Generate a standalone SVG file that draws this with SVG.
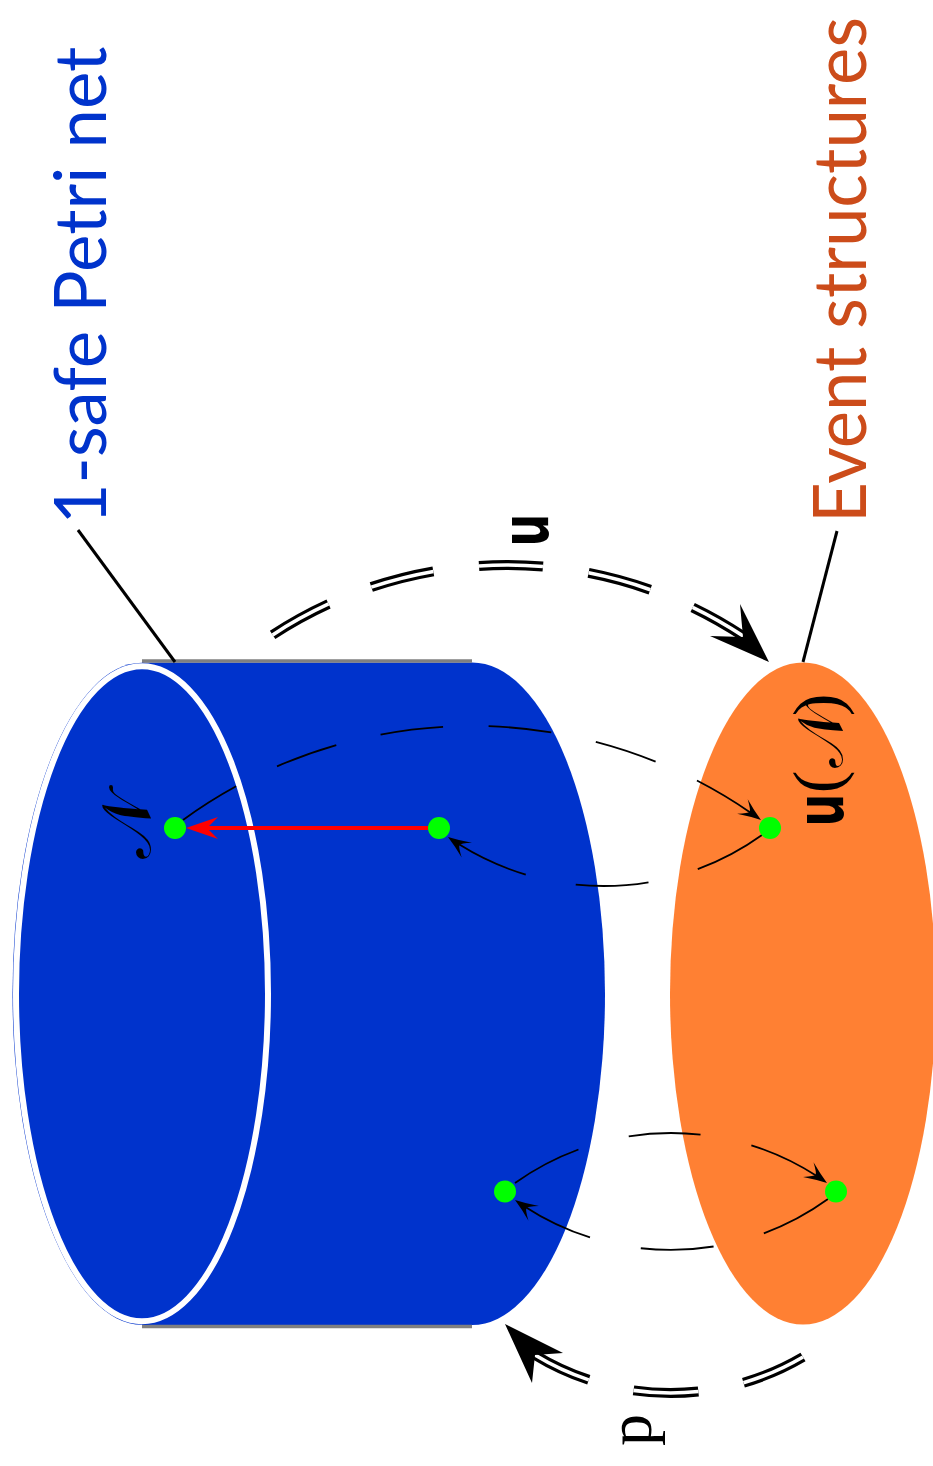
<svg xmlns="http://www.w3.org/2000/svg" width="933" height="1466" viewBox="0 0 933 1466">
  <style>
    .thin { fill: none; stroke: #000; stroke-width: 1.8; }
    .dbl-out { fill: none; stroke: #000; stroke-width: 10; }
    .dbl-in { fill: none; stroke: #fff; stroke-width: 3.6; }
    .dot { fill: #00ff00; }
    .lead { stroke: #000; stroke-width: 3; }
    .title { font-family: Lato, "Noto Sans", "DejaVu Sans", sans-serif; text-anchor: middle; }
    .math { font-family: "Liberation Serif", "DejaVu Serif", serif; text-anchor: middle; }
    .cal { font-family: "DejaVu Serif", "DejaVu Sans", "Noto Sans", serif; text-anchor: middle; }
    .bu { font-family: "DejaVu Sans", sans-serif; font-weight: bold; text-anchor: middle; }
  </style>
  <defs>
    <marker id="tip" markerUnits="userSpaceOnUse" orient="auto" viewBox="-25 -12 27 24" refX="0" refY="0" markerWidth="27" markerHeight="24">
      <path d="M0,0 Q-11,-3.5 -23,-9 Q-14,-2 -14,0 Q-14,2 -23,9 Q-11,3.5 0,0 Z" fill="#000"/>
    </marker>
    <marker id="redtip" markerUnits="userSpaceOnUse" orient="auto" viewBox="-13 -12 36 24" refX="0" refY="0" markerWidth="36" markerHeight="24">
      <path d="M21,0 L-11,-11 L0,0 L-11,11 Z" fill="#ff0000"/>
    </marker>
  </defs>

  <!-- 1-safe Petri net: cylinder -->
  <g id="petri-net">
    <path d="M142,662.5 H472 A133,331.25 0 0 1 472,1325 H142 Z" fill="#0033cc"/>
    <line x1="142" y1="661" x2="472" y2="661" stroke="#808080" stroke-width="3.4"/>
    <line x1="142" y1="1326.5" x2="472" y2="1326.5" stroke="#808080" stroke-width="3.4"/>
    <ellipse cx="142" cy="993.75" rx="129.5" ry="331" fill="#0033cc"/>
    <ellipse cx="142" cy="993.75" rx="126" ry="327.5" fill="none" stroke="#fff" stroke-width="6"/>
    <text class="title" transform="translate(106,285.5) rotate(-90)" font-size="72" fill="#0033cc" textLength="478" lengthAdjust="spacingAndGlyphs">1-safe Petri net</text>
  </g>

  <!-- Event structures: ellipse -->
  <g id="event-structures">
    <ellipse cx="803" cy="993.5" rx="133" ry="331" fill="#ff8033"/>
    <text class="title" transform="translate(866,270) rotate(-90)" font-size="74" fill="#cc4c1a" textLength="506" lengthAdjust="spacingAndGlyphs">Event structures</text>
  </g>

  <g id="connectors">
    <!-- leaders -->
    <line class="lead" x1="78" y1="530" x2="175" y2="662"/>
    <line class="lead" x1="837" y1="531" x2="803" y2="662"/>

    <!-- u : nets to event structures -->
    <path class="dbl-out" d="M272.6,634.9 A428,428 0 0 1 743.2,636.1" stroke-dasharray="64 46"/>
    <path class="dbl-in" d="M272.6,634.9 A428,428 0 0 1 743.2,636.1" stroke-dasharray="64 46"/>
    <polygon points="769,662 740,604 743,637 710,636" fill="#000"/>

    <!-- p : event structures to nets -->
    <path class="dbl-out" d="M803,1357 A261,261 0 0 1 535,1355" stroke-dasharray="65 46"/>
    <path class="dbl-in" d="M803,1357 A261,261 0 0 1 535,1355" stroke-dasharray="65 46"/>
    <polygon points="505,1324 563,1353 535,1355 532,1383" fill="#000"/>

    <!-- element maps -->
    <path class="thin" d="M183,820 A491,491 0 0 1 761,820" stroke-dasharray="63 45.5" marker-end="url(#tip)"/>
    <path class="thin" d="M762,835 A271.5,271.5 0 0 1 448,837" stroke-dasharray="73 51" marker-end="url(#tip)"/>
    <path class="thin" d="M515,1183 A268.4,268.4 0 0 1 827,1183" stroke-dasharray="72 52" marker-end="url(#tip)"/>
    <path class="thin" d="M828,1199 A268,268 0 0 1 515,1200" stroke-dasharray="73 52" marker-end="url(#tip)"/>

    <!-- red arrow inside the net class -->
    <path d="M428,828 H207" fill="none" stroke="#ff0000" stroke-width="4" marker-end="url(#redtip)"/>
  </g>

  <!-- points -->
  <g id="n-net"><circle class="dot" cx="175" cy="828" r="11"/></g>
  <g id="n-net-2"><circle class="dot" cx="439" cy="828" r="11"/></g>
  <g id="n-es"><circle class="dot" cx="770" cy="828" r="11"/></g>
  <g id="m-net"><circle class="dot" cx="505" cy="1191.5" r="11"/></g>
  <g id="m-es"><circle class="dot" cx="836" cy="1191.5" r="11"/></g>

  <!-- labels -->
  <g id="labels">
    <text class="cal" transform="translate(150,826) rotate(-90)" font-size="68">𝒩</text>
    <text class="bu" transform="translate(548,530) rotate(-90) scale(0.7,1)" font-size="66">u</text>
    <text class="math" transform="translate(651,1430) rotate(-90)" font-size="64">p</text>
    <text class="bu" transform="translate(843,810) rotate(-90) scale(0.7,1)" font-size="66">u</text>
    <text class="math" transform="translate(840,782) rotate(-90)" font-size="68">(</text>
    <text class="cal" transform="translate(842,738) rotate(-90)" font-size="62">𝒩</text>
    <text class="math" transform="translate(840,705) rotate(-90)" font-size="68">)</text>
  </g>
</svg>
